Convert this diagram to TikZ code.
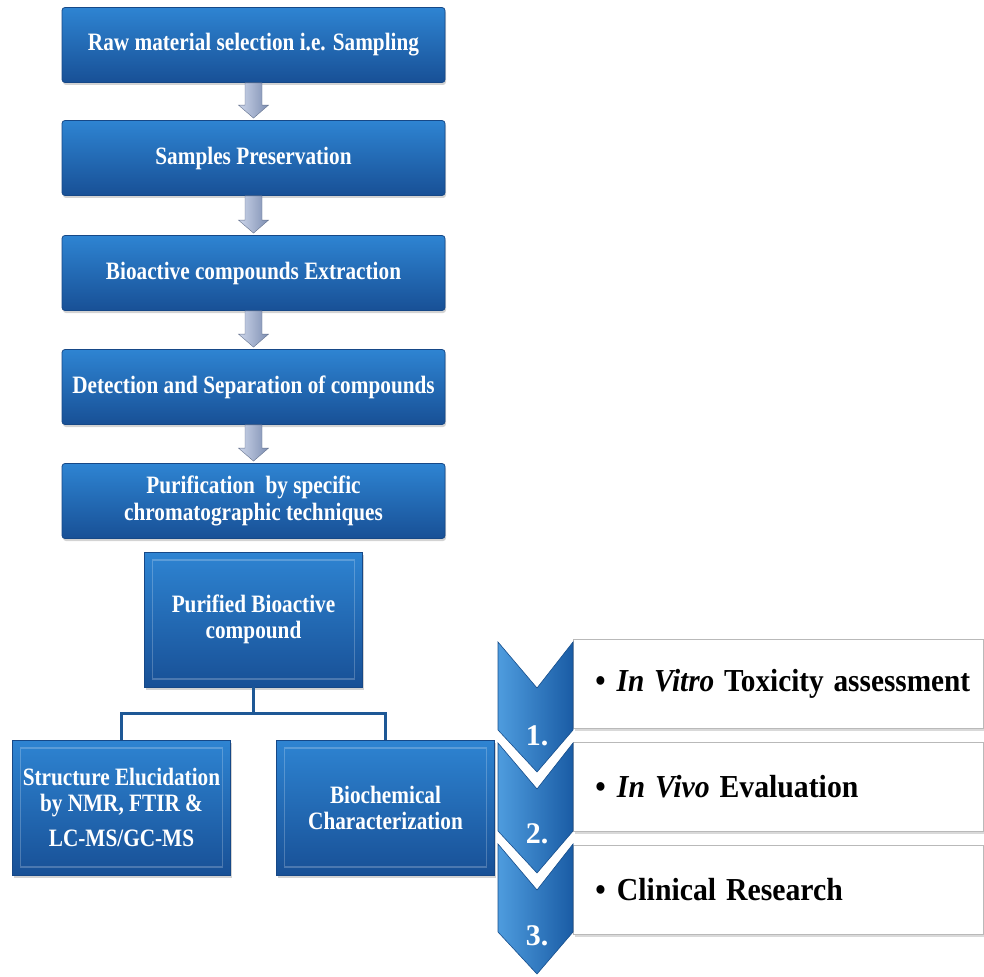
\documentclass[tikz,border=0pt]{standalone}
\usepackage{fontspec}
\setmainfont{Liberation Serif}
\usetikzlibrary{shadows,calc}
\definecolor{bluetop}{RGB}{46,132,210}
\definecolor{bluebot}{RGB}{24,80,150}
\definecolor{blueedge}{RGB}{22,72,135}
\definecolor{linkblue}{RGB}{30,88,150}
\definecolor{arrowL}{RGB}{205,214,234}
\definecolor{arrowR}{RGB}{125,142,178}
\definecolor{chevL}{RGB}{78,156,222}
\definecolor{chevR}{RGB}{26,92,165}
\newcommand{\cnd}[1]{\scalebox{0.85}[1]{#1}}
\newcommand{\cwd}[1]{\scalebox{0.93}[1]{#1}}
\begin{document}
\begin{tikzpicture}[x=1pt,y=-1pt,
  flowbox/.style={draw=blueedge, line width=0.8pt, rounded corners=3pt,
    top color=bluetop, bottom color=bluebot, minimum width=383pt,
    minimum height=75pt, inner sep=0pt, text=white, align=center,
    font=\bfseries\fontsize{25}{27}\selectfont,
    drop shadow={opacity=0.35, shadow xshift=1pt, shadow yshift=-2.5pt}},
  blockbox/.style={draw=blueedge, line width=0.8pt,
    top color=bluetop, bottom color=bluebot, minimum width=218pt,
    minimum height=135pt, inner sep=0pt, text=white, align=center,
    font=\bfseries\fontsize{25}{26}\selectfont,
    drop shadow={opacity=0.35, shadow xshift=1pt, shadow yshift=-2.5pt},
    path picture={\draw[white, opacity=0.22, line width=1.5pt]
      ($(path picture bounding box.south west)+(8pt,8pt)$) rectangle
      ($(path picture bounding box.north east)+(-8pt,-8pt)$);}},
  link/.style={draw=linkblue, line width=3pt},
  downarrow/.style={left color=arrowL, right color=arrowR, draw=arrowR!80!black, line width=0.4pt},
  chev/.style={left color=chevL, right color=chevR, draw=chevR!85!black, line width=0.6pt},
  stepbox/.style={draw=gray!55, fill=white, line width=0.8pt, minimum height=89pt,
    text width=366pt, inner xsep=22pt, inner ysep=0pt, align=left,
    font=\bfseries\fontsize{32}{34}\selectfont,
    drop shadow={opacity=0.3, shadow xshift=1.5pt, shadow yshift=-2.5pt}},
  numlbl/.style={text=white, font=\bfseries\fontsize{30}{32}\selectfont, inner sep=0pt}
]
\useasboundingbox (0,0) rectangle (984,976);

% main flow
\node[flowbox] (b1) at (253.5,45) {\cnd{Raw material selection i.e. Sampling}};
\node[flowbox] (b2) at (253.5,158) {\cnd{Samples Preservation}};
\node[flowbox] (b3) at (253.5,273) {\cnd{Bioactive compounds Extraction}};
\node[flowbox] (b4) at (253.5,387) {\cnd{Detection and Separation of compounds}};
\node[flowbox] (b5) at (253.5,501) {\cnd{Purification\ \ by specific}\\\cnd{chromatographic techniques}};

\foreach \a/\b in {b1/b2,b2/b3,b3/b4,b4/b5}{
  \path[downarrow] let \p1=(\a.south), \p2=(\b.north) in
    (\x1-8.5pt,\y1) -- (\x1+8.5pt,\y1) -- (\x1+8.5pt,\y2+15pt) -- (\x1+15pt,\y2+15pt)
    -- (\x1,\y2+2pt) -- (\x1-15pt,\y2+15pt) -- (\x1-8.5pt,\y2+15pt) -- cycle;
}

% purified compound and branches
\node[blockbox] (pur) at (253.5,619.5) {\cnd{Purified Bioactive}\\\cnd{compound}};
\node[blockbox] (st) at (121.5,807.5) {\cnd{Structure Elucidation}\\\cnd{by NMR, FTIR \&}\\[9pt]\cnd{LC-MS/GC-MS}};
\node[blockbox] (bio) at (385.5,807.5) {\cnd{Biochemical}\\\cnd{Characterization}};

\coordinate (j) at ($(pur.south)+(0,26)$);
\draw[link] (pur.south) -- (j);
\draw[link] (j) -| (st.north);
\draw[link] (j) -| (bio.north);

% steps
\node[stepbox, anchor=north west] (s1) at (573,639) {\scalebox{0.915}[1]{\textbullet\hspace{12pt}\textit{In Vitro} Toxicity assessment}};
\node[stepbox, anchor=north west] (s2) at (573,742) {\cwd{\textbullet\hspace{12pt}\textit{In Vivo} Evaluation}};
\node[stepbox, anchor=north west] (s3) at (573,845) {\cwd{\textbullet\hspace{12pt}Clinical Research}};

\foreach \t in {642,743,844}{
  \path[chev] (498,\t) -- (537,\t+46) -- (573,\t) -- (573,\t+88) -- (537,\t+130) -- (498,\t+88) -- cycle;
}
\node[numlbl, anchor=base] (n1) at (537,745) {1.};
\node[numlbl, anchor=base] (n2) at (537,843) {2.};
\node[numlbl, anchor=base] (n3) at (537,945) {3.};
\end{tikzpicture}
\end{document}
